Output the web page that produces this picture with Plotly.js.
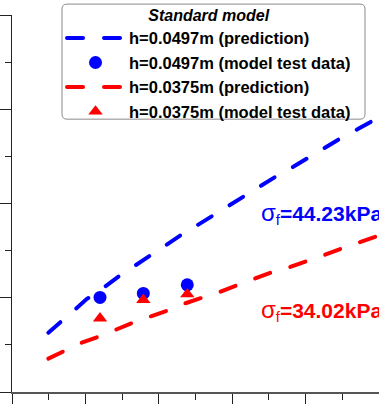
<!DOCTYPE html>
<html>
<head>
<meta charset="utf-8">
<script src="https://cdn.plot.ly/plotly-3.0.1.min.js"></script>
<style>
html, body { margin:0; padding:0; overflow:hidden; background:#fff; }
#chart { width:400px; height:404px; }
.scatterlayer path.js-line, .legend path.js-line { stroke-linecap: round; }
</style>
</head>
<body>
<div id="chart"></div>
<script>
// Prediction curves
const predLargeX = [4.95, 7.08, 8.86, 10.17, 11.31, 12.81, 14.99, 16.89, 19.17, 21.08, 23.34, 25.38, 27.79, 29.70, 31.98, 34.02, 36.42, 38.32, 40.60, 42.64, 45.05, 47.18, 49.69, 50.0];
const predLargeY = [12.57, 15.37, 17.89, 19.72, 20.78, 22.53, 25.05, 26.95, 29.33, 31.43, 33.62, 35.52, 37.83, 39.73, 41.83, 43.94, 46.17, 47.79, 49.89, 52.0, 54.1, 55.85, 57.96, 58.3];
const predSmallX = [4.95, 7.45, 9.50, 11.99, 14.26, 16.08, 18.80, 21.43, 23.57, 26.06, 28.34, 30.83, 32.87, 35.60, 37.64, 40.37, 42.41, 45.14, 47.18, 50.0];
const predSmallY = [7.09, 8.84, 10.46, 11.85, 13.41, 14.46, 16.0, 17.41, 18.80, 20.06, 21.26, 22.74, 23.94, 25.54, 26.38, 27.79, 28.99, 30.59, 31.6, 33.2];
// Model test data
const testX = [11.99, 17.89, 23.88];
const testLargeY = [20.06, 20.91, 22.74];
const testSmallY = [15.63, 19.57, 20.75];
// Labels
const legendTitle = "Standard model";
const seriesNames = ["h=0.0497m (prediction)", "h=0.0497m (model test data)", "h=0.0375m (prediction)", "h=0.0375m (model test data)"];
const strengthLabels = ["44.23kPa", "34.02kPa"];
const labelX = [33.7, 33.7];
const labelY = [37.8, 17.2];

const BLUE = "#0000ff", RED = "#ff0000";
const dash = "16px,21px";
const FONT = "Liberation Sans, Arial, sans-serif";

const traces = [
  {x: predLargeX, y: predLargeY, type: "scatter", mode: "lines", name: seriesNames[0],
   line: {color: BLUE, width: 4, dash: dash}},
  {x: testX, y: testLargeY, type: "scatter", mode: "markers", name: seriesNames[1],
   marker: {color: BLUE, size: 13, symbol: "circle"}},
  {x: predSmallX, y: predSmallY, type: "scatter", mode: "lines", name: seriesNames[2],
   line: {color: RED, width: 4, dash: dash}},
  {x: testX, y: testSmallY, type: "scatter", mode: "markers", name: seriesNames[3],
   marker: {color: RED, size: 12.5, symbol: "triangle-up"}}
];

// rounded legend frame in paper coords
const x0 = 0.1289, x1 = 0.9098, y0 = 0.7237, y1 = 1.0289, rx = 0.0129, ry = 0.0132;
const framePath = `M${x0+rx},${y1} L${x1-rx},${y1} Q${x1},${y1} ${x1},${y1-ry} L${x1},${y0+ry} Q${x1},${y0} ${x1-rx},${y0} L${x0+rx},${y0} Q${x0},${y0} ${x0},${y0+ry} L${x0},${y1-ry} Q${x0},${y1} ${x0+rx},${y1} Z`;

const mkLabel = (i, color) => ({
  x: labelX[i], y: labelY[i], xref: "x", yref: "y", xanchor: "left", yanchor: "middle",
  showarrow: false,
  text: "<span style='font-weight:normal;font-size:24px'>σ</span><sub><span style='font-weight:normal'>f</span></sub>=" + strengthLabels[i],
  font: {family: FONT, size: 21, color: color, weight: "bold"}
});

const layout = {
  width: 400, height: 404,
  margin: {l: 12, r: 0, t: 12, b: 12, pad: 0},
  paper_bgcolor: "#fff", plot_bgcolor: "#fff",
  font: {family: FONT, color: "#000"},
  showlegend: true,
  xaxis: {range: [0, 52.86], showgrid: false, zeroline: false, showticklabels: false,
          showline: true, linecolor: "#555", linewidth: 2,
          ticks: "outside", ticklen: 11, tickwidth: 1, tickcolor: "#222", dtick: 10, tick0: 0,
          minor: {ticks: "outside", ticklen: 6, tickwidth: 1, tickcolor: "#222", dtick: 5, showgrid: false}},
  yaxis: {range: [0, 80], showgrid: false, zeroline: false, showticklabels: false,
          showline: true, linecolor: "#222", linewidth: 1,
          ticks: "outside", ticklen: 12, tickwidth: 1, tickcolor: "#222", dtick: 20, tick0: 0,
          minor: {ticks: "outside", ticklen: 6, tickwidth: 1, tickcolor: "#222", dtick: 10, showgrid: false}},
  legend: {x: 0.1289, y: 1.040, xanchor: "left", yanchor: "top",
           bgcolor: "rgba(0,0,0,0)", borderwidth: 0, itemwidth: 57,
           font: {size: 16.5, weight: "bold", color: "#000", family: FONT},
           title: {text: legendTitle, side: "top center",
                   font: {size: 16, weight: "bold", style: "italic", color: "#000", family: FONT}}},
  shapes: [{type: "path", xref: "paper", yref: "paper", path: framePath,
            line: {color: "#8a8a8a", width: 1}, fillcolor: "rgba(0,0,0,0)", layer: "above"}],
  annotations: [mkLabel(0, BLUE), mkLabel(1, RED)]
};

Plotly.newPlot("chart", traces, layout, {staticPlot: true, displayModeBar: false});
</script>
</body>
</html>
